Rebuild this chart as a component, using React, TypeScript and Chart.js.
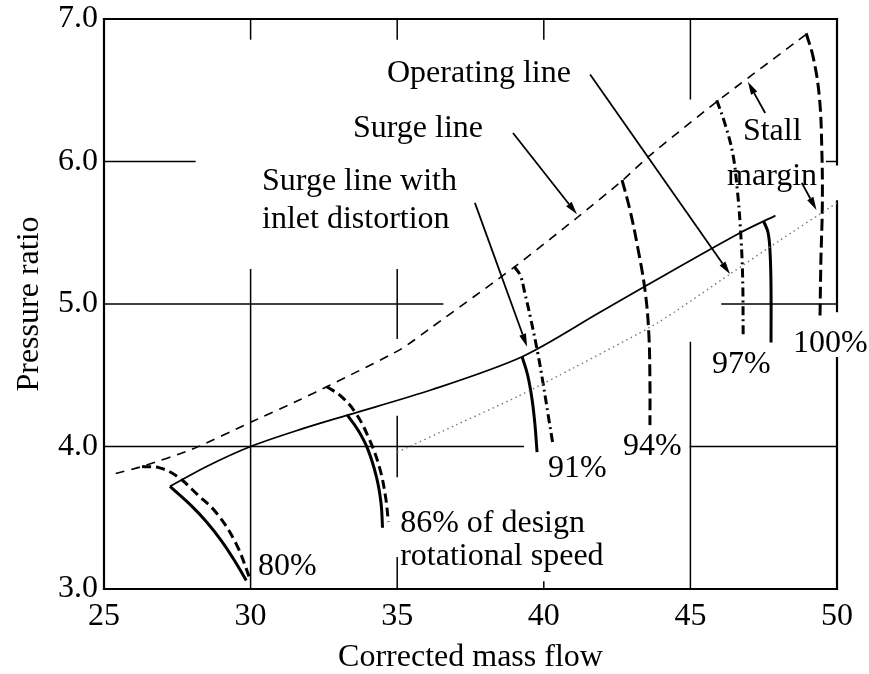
import React, { useEffect, useRef } from "react";
import { Chart, registerables } from "chart.js";

Chart.register(...registerables);

// ---------- data (corrected mass flow, pressure ratio) ----------
const xTickValues = [25, 30, 35, 40, 45, 50];
const yTickValues = [3, 4, 5, 6, 7];

const surgeLine = [
  [25.4, 3.81], [26.3, 3.86], [28, 3.98], [30, 4.17], [31.7, 4.33], [32.7, 4.43],
  [35.1, 4.68], [36.2, 4.84], [39.0, 5.26], [41.1, 5.6], [42.7, 5.87], [43.6, 6.04],
  [45.9, 6.42], [49.0, 6.9],
];
const surgeLineDistortion = [
  [27.25, 3.72], [28.5, 3.86], [30, 4.0], [31.7, 4.12], [33.3, 4.22], [36.2, 4.4],
  [39.26, 4.63], [41.9, 4.94], [43.5, 5.13], [46.7, 5.5], [47.9, 5.62],
];
const operatingLine = [
  [35, 3.96], [37, 4.15], [39.1, 4.35], [41, 4.55], [43.9, 4.87], [46.35, 5.21],
  [48, 5.44], [50, 5.71],
];

const speed80 = [[26.3, 3.86], [26.9, 3.85], [27.5, 3.79], [28.2, 3.66], [28.85, 3.53], [29.5, 3.32], [30.0, 3.06]];
const speed80Distortion = [[27.25, 3.72], [28.0, 3.58], [28.5, 3.47], [29.0, 3.34], [29.45, 3.2], [29.85, 3.06]];
const speed86 = [[32.6, 4.42], [33.1, 4.35], [33.6, 4.23], [34.05, 4.05], [34.4, 3.85], [34.6, 3.65], [34.7, 3.47]];
const speed86Distortion = [[33.3, 4.22], [33.65, 4.12], [34.0, 3.98], [34.3, 3.78], [34.45, 3.6], [34.5, 3.43]];
const speed91 = [[39.0, 5.26], [39.2, 5.2], [39.35, 5.08], [39.55, 4.9], [39.8, 4.65], [39.97, 4.45], [40.15, 4.22], [40.3, 4.03]];
const speed91Distortion = [[39.26, 4.63], [39.45, 4.5], [39.6, 4.33], [39.7, 4.15], [39.77, 3.96]];
const speed94 = [[42.67, 5.87], [42.95, 5.65], [43.2, 5.4], [43.45, 5.1], [43.58, 4.8], [43.62, 4.45], [43.62, 4.15]];
const speed97 = [[45.9, 6.43], [46.2, 6.25], [46.45, 6.05], [46.6, 5.8], [46.7, 5.55], [46.78, 5.2], [46.8, 4.78]];
const speed97Distortion = [[47.5, 5.58], [47.65, 5.5], [47.72, 5.35], [47.75, 5.1], [47.75, 4.73]];
const speed100 = [[48.95, 6.9], [49.2, 6.72], [49.4, 6.45], [49.48, 6.1], [49.5, 5.7], [49.45, 5.3], [49.42, 4.9]];

// partial grid of the printed figure: [x, yFrom, yTo] and [y, xFrom, xTo]
const gridVertical = [
  [30, 3, 5.24], [30, 6.86, 7],
  [35, 3, 3.22], [35, 3.79, 4.21], [35, 4.76, 5.24], [35, 6.86, 7],
  [40, 3, 3.05], [40, 6.86, 7],
  [45, 3, 4.73], [45, 6.44, 7],
];
const gridHorizontal = [
  [6, 25, 28.1], [6, 49.65, 50],
  [5, 25, 36.55], [5, 46.08, 50],
  [4, 25, 39.3], [4, 45, 50],
];
const frameLines = [
  // [x0, y0, x1, y1]
  [25, 3, 25, 7], [25, 3, 50, 3], [25, 7, 50, 7],
  [50, 3, 50, 4.62], [50, 4.95, 50, 5.72], [50, 5.98, 50, 7],
];

// annotation arrows [fromX, fromY, toX, toY]
const arrows = [
  [41.58, 6.61, 46.35, 5.21],
  [38.95, 6.2, 41.13, 5.63],
  [37.65, 5.71, 39.43, 4.7],
  [47.55, 6.34, 46.96, 6.56],
  [48.8, 5.85, 49.3, 5.66],
];

const labelTexts = [
  "Operating line", "Surge line", "Surge line with", "inlet distortion", "Stall", "margin",
  "80%", "86% of design", "rotational speed", "91%", "94%", "97%", "100%",
];
const labelX = [34.65, 33.49, 30.39, 30.39, 46.79, 46.25, 30.25, 35.1, 35.1, 40.14, 42.7, 45.74, 48.5];
const labelY = [6.558, 6.172, 5.8, 5.533, 6.151, 5.835, 3.098, 3.4, 3.168, 3.786, 3.94, 4.516, 4.663];

const FONT = "'Liberation Serif', 'Times New Roman', serif";

const toPts = (a: number[][]) => a.map(([x, y]) => ({ x, y }));

const decorPlugin = {
  id: "decor",
  beforeDatasetsDraw(chart: any) {
    const { ctx, scales } = chart;
    const xs = scales.x, ys = scales.y;
    const px = (v: number) => xs.getPixelForValue(v);
    const py = (v: number) => ys.getPixelForValue(v);
    ctx.save();
    ctx.strokeStyle = "#000";
    ctx.lineCap = "square";
    ctx.lineWidth = 1.5;
    for (const [xv, a, b] of gridVertical) {
      ctx.beginPath();
      ctx.moveTo(px(xv), py(a));
      ctx.lineTo(px(xv), py(b));
      ctx.stroke();
    }
    for (const [yv, a, b] of gridHorizontal) {
      ctx.beginPath();
      ctx.moveTo(px(a), py(yv));
      ctx.lineTo(px(b), py(yv));
      ctx.stroke();
    }
    ctx.lineWidth = 2.2;
    for (const [x0, y0, x1, y1] of frameLines) {
      ctx.beginPath();
      ctx.moveTo(px(x0), py(y0));
      ctx.lineTo(px(x1), py(y1));
      ctx.stroke();
    }
    ctx.restore();
  },
  afterDatasetsDraw(chart: any) {
    const { ctx, scales } = chart;
    const xs = scales.x, ys = scales.y;
    const px = (v: number) => xs.getPixelForValue(v);
    const py = (v: number) => ys.getPixelForValue(v);
    ctx.save();
    ctx.strokeStyle = "#000";
    ctx.fillStyle = "#000";
    ctx.lineWidth = 1.8;
    for (const [a, b, c, d] of arrows) {
      const x0 = px(a), y0 = py(b), x1 = px(c), y1 = py(d);
      const ang = Math.atan2(y1 - y0, x1 - x0);
      const head = 13, half = 3.5;
      const bx = x1 - head * Math.cos(ang), by = y1 - head * Math.sin(ang);
      ctx.beginPath();
      ctx.moveTo(x0, y0);
      ctx.lineTo(bx, by);
      ctx.stroke();
      ctx.beginPath();
      ctx.moveTo(x1, y1);
      ctx.lineTo(bx + half * Math.sin(ang), by - half * Math.cos(ang));
      ctx.lineTo(bx - half * Math.sin(ang), by + half * Math.cos(ang));
      ctx.closePath();
      ctx.fill();
    }
    ctx.font = `32px ${FONT}`;
    ctx.textAlign = "left";
    ctx.textBaseline = "alphabetic";
    labelTexts.forEach((t, i) => {
      ctx.fillText(t, px(labelX[i]), py(labelY[i]));
    });
    ctx.restore();
  },
};

function line(data: number[][], opts: any) {
  return {
    data: toPts(data),
    showLine: true,
    pointRadius: 0,
    pointHoverRadius: 0,
    borderColor: "#000",
    backgroundColor: "#000",
    borderWidth: 3,
    tension: 0.4,
    fill: false,
    ...opts,
  };
}

export default function App() {
  const ref = useRef<HTMLCanvasElement | null>(null);
  useEffect(() => {
    if (!ref.current) return;
    Chart.defaults.font.family = FONT;
    Chart.defaults.color = "#000";
    const dashA = [9, 5];
    const dashDot = [9, 4, 2, 4];
    const dashLong = [12, 5];
    const chart = new Chart(ref.current, {
      type: "scatter",
      data: {
        datasets: [
          line(surgeLine, { label: "Surge line", borderWidth: 1.6, borderDash: [9, 7], tension: 0.2 }),
          line(surgeLineDistortion, { label: "Surge line with inlet distortion", borderWidth: 1.8, tension: 0.3 }),
          line(operatingLine, { label: "Operating line", borderWidth: 1.4, borderColor: "#777", borderDash: [1.5, 3.5], tension: 0.2 }),
          line(speed80, { label: "80%", borderDash: dashA }),
          line(speed80Distortion, { label: "80% distortion" }),
          line(speed86, { label: "86%", borderDash: dashA }),
          line(speed86Distortion, { label: "86% distortion" }),
          line(speed91, { label: "91%", borderDash: dashDot }),
          line(speed91Distortion, { label: "91% distortion" }),
          line(speed94, { label: "94%", borderDash: dashLong }),
          line(speed97, { label: "97%", borderDash: dashDot }),
          line(speed97Distortion, { label: "97% distortion" }),
          line(speed100, { label: "100%", borderDash: dashLong }),
        ],
      },
      options: {
        responsive: false,
        animation: false,
        devicePixelRatio: 1,
        layout: { padding: { top: 19, right: 32, left: 0, bottom: 0 } },
        plugins: { legend: { display: false }, tooltip: { enabled: false } },
        scales: {
          x: {
            type: "linear",
            min: 25,
            max: 50,
            afterBuildTicks: (s: any) => { s.ticks = xTickValues.map((v) => ({ value: v })); },
            afterFit: (s: any) => { s.height = 85; },
            grid: { display: false, drawTicks: false },
            border: { display: false },
            ticks: { padding: 8, font: { size: 32 }, color: "#000", callback: (v: any) => String(v) },
            title: { display: true, text: "Corrected mass flow", font: { size: 32, lineHeight: 1 }, padding: 0, color: "#000" },
          },
          y: {
            type: "linear",
            min: 3,
            max: 7,
            afterBuildTicks: (s: any) => { s.ticks = yTickValues.map((v) => ({ value: v })); },
            afterFit: (s: any) => { s.width = 104; },
            grid: { display: false, drawTicks: false },
            border: { display: false },
            ticks: { padding: 6, font: { size: 32, lineHeight: 0.7 }, color: "#000", callback: (v: any) => Number(v).toFixed(1) },
            title: { display: true, text: "Pressure ratio", font: { size: 32, lineHeight: 1 }, padding: { top: 14, bottom: 0 }, color: "#000" },
          },
        },
      },
      plugins: [decorPlugin],
    } as any);
    return () => chart.destroy();
  }, []);
  return (
    <div style={{ position: "fixed", left: 0, top: 0, width: 869, height: 674, background: "#fff" }}>
      <canvas ref={ref} width={869} height={674} style={{ display: "block" }} />
    </div>
  );
}
